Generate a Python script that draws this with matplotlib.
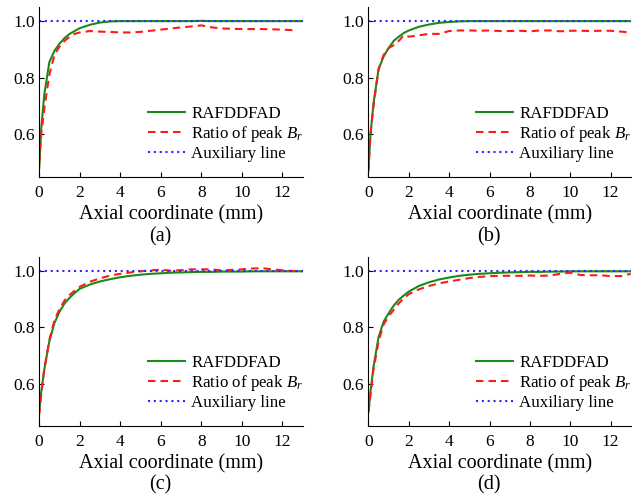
import matplotlib
matplotlib.use('Agg')
import matplotlib.pyplot as plt

plt.rcParams['font.family'] = ['Liberation Serif', 'DejaVu Serif']
plt.rcParams['mathtext.fontset'] = 'custom'
plt.rcParams['mathtext.rm'] = 'Liberation Serif'
plt.rcParams['mathtext.it'] = 'Liberation Serif:italic'

# axial positions (mm)
x_axial = [0, 0.1, 0.25, 0.5, 0.75, 1.0, 1.25, 1.5, 1.75, 2.0, 2.5, 3.0, 3.5,
           4.0, 4.5, 5.0, 5.5, 6.0, 6.5, 7.0, 7.5, 8.0, 8.5, 9.0, 9.5, 10.0,
           10.5, 11.0, 11.5, 12.0, 12.5, 13.0]

green_a = [0.48, 0.62, 0.74, 0.855, 0.895, 0.92, 0.94, 0.955, 0.965, 0.975, 0.987, 0.995, 0.999,
           1.0, 1.0, 1.0, 1.0, 1.0, 1.0, 1.0, 1.0, 1.001, 1.0, 1.0, 1.0, 1.0,
           1.0, 1.0, 1.0, 1.0, 1.0, 1.0]
red_a = [0.50, 0.60, 0.69, 0.81, 0.88, 0.91, 0.93, 0.945, 0.955, 0.96, 0.965, 0.963, 0.962,
         0.96, 0.96, 0.962, 0.966, 0.97, 0.974, 0.978, 0.981, 0.985, 0.978, 0.974, 0.973, 0.972,
         0.972, 0.972, 0.971, 0.97, 0.968]

green_b = [0.48, 0.60, 0.71, 0.83, 0.875, 0.905, 0.93, 0.945, 0.958, 0.967, 0.98, 0.988, 0.994,
           0.997, 0.999, 1.0, 1.0, 1.0, 1.0, 1.0, 1.0, 1.0, 1.0, 1.0, 1.0, 1.0,
           1.0, 1.0, 1.0, 1.0, 1.0, 1.0]
red_b = [0.47, 0.60, 0.70, 0.83, 0.88, 0.905, 0.915, 0.93, 0.95, 0.945, 0.95, 0.955, 0.955,
         0.965, 0.967, 0.967, 0.966, 0.967, 0.965, 0.965, 0.966, 0.964, 0.967, 0.967, 0.964, 0.966,
         0.966, 0.965, 0.966, 0.966, 0.963, 0.96]

green_c = [0.50, 0.57, 0.65, 0.75, 0.815, 0.855, 0.885, 0.905, 0.922, 0.937, 0.952, 0.963, 0.971,
           0.978, 0.983, 0.987, 0.99, 0.992, 0.994, 0.995, 0.996, 0.997, 0.997, 0.998, 0.998, 0.998,
           0.999, 0.999, 0.999, 0.999, 0.999, 0.999]
red_c = [0.49, 0.56, 0.65, 0.755, 0.825, 0.865, 0.895, 0.915, 0.93, 0.944, 0.962, 0.974, 0.984,
         0.99, 0.995, 0.999, 1.002, 1.005, 1.001, 1.003, 1.006, 1.006, 1.006, 1.002, 1.004, 1.006,
         1.009, 1.01, 1.006, 1.003, 1.0, 1.0]

green_d = [0.50, 0.57, 0.66, 0.765, 0.82, 0.85, 0.877, 0.898, 0.913, 0.927, 0.947, 0.96, 0.97,
           0.977, 0.983, 0.987, 0.99, 0.992, 0.994, 0.995, 0.996, 0.997, 0.997, 0.998, 0.998, 0.999,
           0.999, 0.999, 0.999, 0.999, 0.999, 0.999]
red_d = [0.50, 0.56, 0.65, 0.75, 0.81, 0.84, 0.862, 0.885, 0.903, 0.918, 0.935, 0.947, 0.956,
         0.963, 0.969, 0.975, 0.979, 0.982, 0.983, 0.983, 0.983, 0.984, 0.983, 0.984, 0.99, 0.994,
         0.986, 0.985, 0.985, 0.982, 0.982, 0.99]

aux_x = [0, 13]
aux_y = [1.0, 1.0]

panels = [('(a)', green_a, red_a), ('(b)', green_b, red_b),
          ('(c)', green_c, red_c), ('(d)', green_d, red_d)]
rects = [[0.062, 0.644, 0.417, 0.342], [0.583, 0.644, 0.415, 0.342],
         [0.062, 0.143, 0.417, 0.340], [0.583, 0.143, 0.415, 0.340]]

fig = plt.figure(figsize=(6.32, 4.97), dpi=100)

for (tag, green, red), rect in zip(panels, rects):
    ax = fig.add_axes(rect)
    ax.plot(x_axial[:len(green)], green, color='#1a8a1a', lw=1.5, label='RAFDDFAD')
    ax.plot(x_axial[:len(red)], red, color='#ff1a1a', lw=1.5,
            linestyle=(0, (3.6, 2.4)), label='Ratio of peak $B_r$')
    ax.plot(aux_x, aux_y, color='#2a2aff', lw=1.5,
            linestyle=(0, (1, 1.8)), label='Auxiliary line')

    ax.set_xlim(0, 13)
    ax.set_ylim(0.45, 1.05)
    ax.set_xticks([0, 2, 4, 6, 8, 10, 12])
    ax.set_yticks([0.6, 0.8, 1.0])
    ax.set_yticklabels(['0.6', '0.8', '1.0'])
    ax.spines['top'].set_visible(False)
    ax.spines['right'].set_visible(False)
    ax.tick_params(direction='in', length=3.5, width=0.8, labelsize=12.5)
    ax.tick_params(axis='x', pad=6)
    ax.tick_params(axis='y', pad=3)
    ax.set_xlabel('Axial coordinate (mm)', fontsize=14.5, labelpad=3)
    ax.text(0.46, -0.35, tag, transform=ax.transAxes, fontsize=14.5,
            ha='center', va='center')
    ax.legend(loc='lower right', bbox_to_anchor=(1.06, 0.0), frameon=False,
              fontsize=12.2, handlelength=2.2, handletextpad=0.35,
              labelspacing=0.12, borderaxespad=0.3, borderpad=0.6)

fig.savefig('out.png', dpi=100)
